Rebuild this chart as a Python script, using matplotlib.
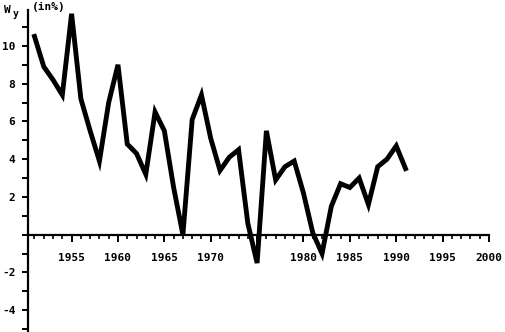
import matplotlib
matplotlib.use("Agg")
import matplotlib.pyplot as plt
from matplotlib.ticker import MultipleLocator

plt.rcParams["axes.unicode_minus"] = False

# growth rate W_y in percent
years = list(range(1951, 1992))
growth = [10.5, 8.9, 8.2, 7.4, 11.7, 7.2, 5.5, 3.9, 7.0, 9.0,
          4.8, 4.3, 3.2, 6.5, 5.5, 2.5, 0.0, 6.1, 7.4, 5.1,
          3.4, 4.1, 4.5, 0.6, -1.5, 5.5, 2.9, 3.6, 3.9, 2.2,
          0.1, -1.0, 1.5, 2.7, 2.5, 3.0, 1.6, 3.6, 4.0, 4.7,
          3.5]

x_ticks = [1955, 1960, 1965, 1970, 1975, 1980, 1985, 1990, 1995, 2000]
x_labels = ["1955", "1960", "1965", "1970", "", "1980", "1985", "1990", "1995", "2000"]
y_ticks = [-4, -2, 2, 4, 6, 8, 10]

fig = plt.figure(figsize=(5.06, 3.32), dpi=100)
ax = fig.add_axes([28 / 506, 1 / 332, (489 - 28) / 506, (331 - 10) / 332])

ax.plot(years, growth, color="black", linewidth=3.5, solid_joinstyle="miter")

ax.set_xlim(1950.3, 2000)
ax.set_ylim(-5.1, 11.9)

ax.spines["top"].set_visible(False)
ax.spines["right"].set_visible(False)
ax.spines["bottom"].set_position(("data", 0))
for s in ["left", "bottom"]:
    ax.spines[s].set_linewidth(1.6)

ax.set_xticks(x_ticks)
ax.set_xticklabels(x_labels)
ax.xaxis.set_minor_locator(MultipleLocator(1))
ax.set_yticks(y_ticks)
ax.yaxis.set_minor_locator(MultipleLocator(1))

font = dict(family="DejaVu Sans Mono", weight="bold", size=8)
for lab in ax.get_xticklabels() + ax.get_yticklabels():
    lab.set_fontfamily(font["family"])
    lab.set_fontweight(font["weight"])
    lab.set_fontsize(font["size"])

ax.tick_params(axis="x", which="major", direction="out", length=5, width=1.4, pad=8)
ax.tick_params(axis="x", which="minor", direction="out", length=3, width=1.2)
ax.tick_params(axis="y", which="both", direction="out", length=4, width=1.4, pad=5)

fig.text(4 / 506, 1 - 10 / 332, "W", fontsize=8, fontweight="bold",
         family="DejaVu Sans Mono", va="center")
fig.text(13 / 506, 1 - 14 / 332, "y", fontsize=7, fontweight="bold",
         family="DejaVu Sans Mono", va="center")
fig.text(32 / 506, 1 - 7 / 332, "(in%)", fontsize=8, fontweight="bold",
         family="DejaVu Sans Mono", va="center")

fig.savefig("out.png", dpi=100)
